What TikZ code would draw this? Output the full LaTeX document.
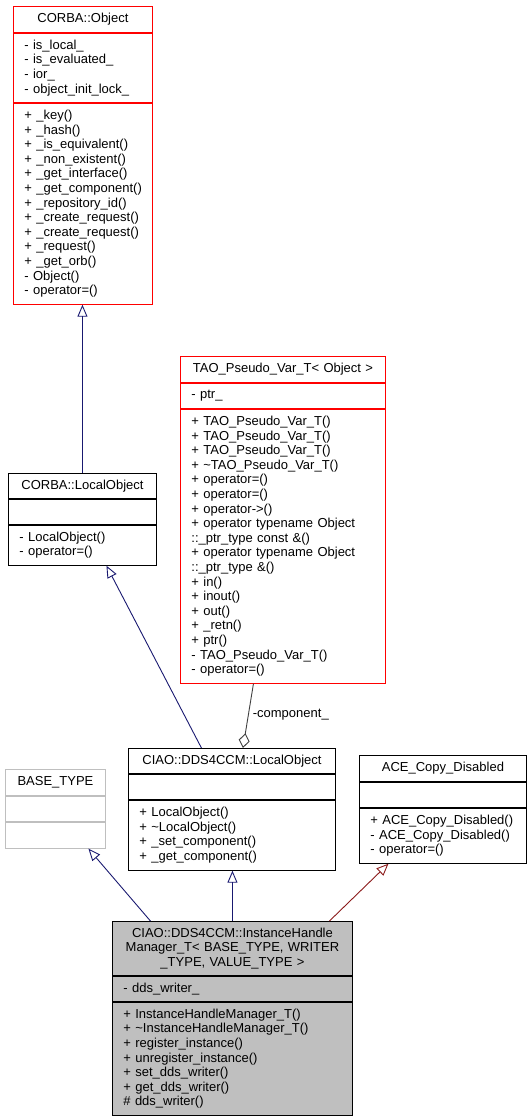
\documentclass[tikz,border=0pt]{standalone}
\usepackage{fontspec}
\setmainfont{Liberation Sans}
\usepackage{xcolor}
\usepackage{tikz}
\usetikzlibrary{arrows.meta, positioning}
\definecolor{edgeBlue}{RGB}{25, 25, 112}
\definecolor{edgeRed}{RGB}{139, 26, 26}
\definecolor{edgeGrey}{RGB}{64, 64, 64}
\definecolor{clsRed}{RGB}{255, 0, 0}
\definecolor{clsGrey}{RGB}{191, 191, 191}
\newcommand{\umlFont}{\fontsize{13}{14.6}\selectfont}

\begin{document}
\begin{tikzpicture}[
    x=1pt, y=-1pt,
    font=\umlFont,
    clsPart/.style={draw=black, line width=0.9pt, inner xsep=11pt, inner ysep=0pt, align=left, minimum height=25pt},
    clsHead/.style={clsPart, align=center, minimum height=26pt},
    boxW/.code={\pgfmathsetmacro\clsTextW{#1-22}\tikzset{minimum width=#1pt, text width=\clsTextW pt}},
    redCls/.style={draw=clsRed},
    greyCls/.style={draw=clsGrey},
    mainCls/.style={fill=clsGrey},
    inheritArrow/.style={-{Triangle[open, length=12pt, width=10pt]}, line width=0.9pt, draw=edgeBlue},
    privArrow/.style={inheritArrow, draw=edgeRed},
    usesArrow/.style={-{Diamond[open, length=15pt, width=11pt]}, line width=0.9pt, draw=edgeGrey}
]
    \useasboundingbox (0,0) rectangle (532,1120);

    % Nodes
    \node[clsHead, redCls, boxW=139, anchor=north west] (obj) at (13,6) {CORBA::Object};
    \node[clsPart, redCls, boxW=139, minimum height=69pt, below=0pt of obj] (obj-a) {
        -~is\_local\_\\-~is\_evaluated\_\\-~ior\_\\-~object\_init\_lock\_};
    \node[clsPart, redCls, boxW=139, minimum height=201pt, below=0pt of obj-a] (obj-m) {
        +~\_key()\\+~\_hash()\\+~\_is\_equivalent()\\+~\_non\_existent()\\
        +~\_get\_interface()\\+~\_get\_component()\\+~\_repository\_id()\\
        +~\_create\_request()\\+~\_create\_request()\\+~\_request()\\
        +~\_get\_orb()\\-~Object()\\-~operator=()};

    \node[clsHead, redCls, boxW=205, anchor=north west] (tao) at (180,356) {TAO\_Pseudo\_Var\_T<~Object~>};
    \node[clsPart, redCls, boxW=205, below=0pt of tao] (tao-a) {-~ptr\_};
    \node[clsPart, redCls, boxW=205, minimum height=274pt, below=0pt of tao-a] (tao-m) {
        +~TAO\_Pseudo\_Var\_T()\\+~TAO\_Pseudo\_Var\_T()\\+~TAO\_Pseudo\_Var\_T()\\
        +~\textasciitilde TAO\_Pseudo\_Var\_T()\\+~operator=()\\+~operator=()\\
        +~operator->()\\+~operator typename Object\\::\_ptr\_type const \&()\\
        +~operator typename Object\\::\_ptr\_type \&()\\+~in()\\+~inout()\\
        +~out()\\+~\_retn()\\+~ptr()\\-~TAO\_Pseudo\_Var\_T()\\-~operator=()};

    \node[clsHead, boxW=148, minimum height=25pt, anchor=north west] (corbalocal) at (8,473) {CORBA::LocalObject};
    \node[clsPart, boxW=148, below=0pt of corbalocal] (corbalocal-a) {};
    \node[clsPart, boxW=148, minimum height=40pt, below=0pt of corbalocal-a] (corbalocal-m) {
        -~LocalObject()\\-~operator=()};

    \node[clsHead, greyCls, boxW=100, anchor=north west] (basetype) at (5,769) {BASE\_TYPE};
    \node[clsPart, greyCls, boxW=100, below=0pt of basetype] (basetype-a) {};
    \node[clsPart, greyCls, boxW=100, minimum height=26pt, below=0pt of basetype-a] (basetype-m) {};

    \node[clsHead, boxW=207, minimum height=25pt, anchor=north west] (ciao) at (128,748) {CIAO::DDS4CCM::LocalObject};
    \node[clsPart, boxW=207, below=0pt of ciao] (ciao-a) {};
    \node[clsPart, boxW=207, minimum height=70pt, below=0pt of ciao-a] (ciao-m) {
        +~LocalObject()\\+~\textasciitilde LocalObject()\\+~\_set\_component()\\+~\_get\_component()};

    \node[clsHead, boxW=167, anchor=north west] (ace) at (359,755) {ACE\_Copy\_Disabled};
    \node[clsPart, boxW=167, below=0pt of ace] (ace-a) {};
    \node[clsPart, boxW=167, minimum height=55pt, below=0pt of ace-a] (ace-m) {
        +~ACE\_Copy\_Disabled()\\-~ACE\_Copy\_Disabled()\\-~operator=()};

    \node[clsHead, mainCls, boxW=240, minimum height=54pt, anchor=north west] (main) at (112,921) {
        CIAO::DDS4CCM::InstanceHandle\\Manager\_T<~BASE\_TYPE,~WRITER\\\_TYPE,~VALUE\_TYPE~>};
    \node[clsPart, mainCls, boxW=240, below=0pt of main] (main-a) {-~dds\_writer\_};
    \node[clsPart, mainCls, boxW=240, minimum height=113pt, below=0pt of main-a] (main-m) {
        +~InstanceHandleManager\_T()\\+~\textasciitilde InstanceHandleManager\_T()\\
        +~register\_instance()\\+~unregister\_instance()\\+~set\_dds\_writer()\\
        +~get\_dds\_writer()\\\#~dds\_writer()};

    % Arrows
    \draw[inheritArrow] (corbalocal.north) -- (corbalocal.north |- obj-m.south);
    \draw[inheritArrow] ([xshift=-30.5pt]ciao.north) -- ([xshift=24pt]corbalocal-m.south);
    \draw[usesArrow] ([xshift=-29.5pt]tao-m.south) -- node[pos=0.48, right=4pt, inner sep=0pt, text=black] (complabel) {-component\_} ([xshift=11pt]ciao.north);
    \draw[inheritArrow] ([xshift=-82pt]main.north) -- ([xshift=33pt]basetype-m.south);
    \draw[inheritArrow] (main.north) -- (main.north |- ciao-m.south);
    \draw[privArrow] ([xshift=97pt]main.north) -- ([xshift=-54.5pt]ace-m.south);

\end{tikzpicture}
\end{document}
